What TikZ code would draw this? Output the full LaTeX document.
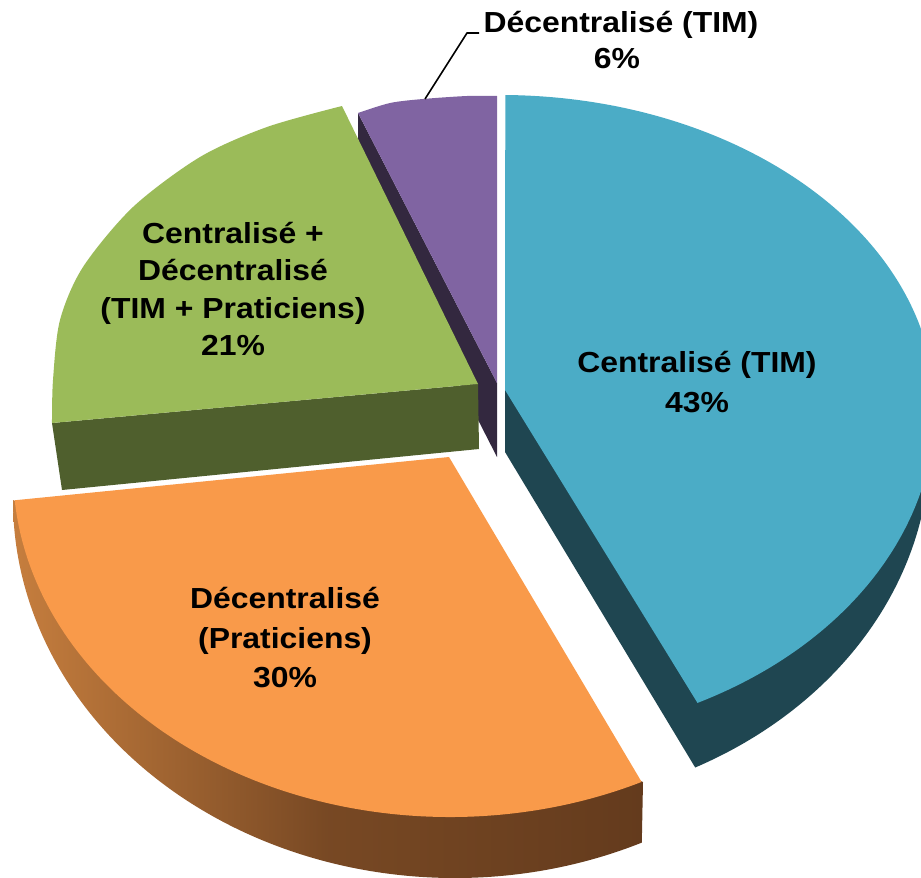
\documentclass[tikz,border=0pt]{standalone}
\usepackage{fontspec}
\newfontfamily\lblfont{Liberation Sans}[FakeStretch=1.1]
\definecolor{bluetop}{HTML}{4BACC6}
\definecolor{blueside}{HTML}{1F4651}
\definecolor{orangetop}{HTML}{F99A4A}
\definecolor{orangelight}{HTML}{C67E3E}
\definecolor{orangedark}{HTML}{643B1D}
\definecolor{greentop}{HTML}{9BBB59}
\definecolor{greenside}{HTML}{4F5F2D}
\definecolor{purpletop}{HTML}{8064A2}
\definecolor{purpleside}{HTML}{33283F}
\tikzset{
  lbl/.style={font=\lblfont\bfseries\fontsize{29}{38}\selectfont, inner sep=0pt, anchor=base, text=black},
  leader/.style={draw=black, line width=1.6pt, line join=round}
}
\begin{document}
\begin{tikzpicture}[x=1pt,y=-1pt]
\useasboundingbox (0,0) rectangle (921,878);
\begin{scope}
\clip (0,0) rectangle (921,878);
% ---- purple (back) ----
\fill[purpleside] (358,113) -- (497,383) -- (497,457) -- (358,185) -- cycle;
\fill[purpletop] (358,113) -- plot[smooth] coordinates {(358,113) (390,103) (423,99) (467,96) (497,96)} -- (497,383) -- cycle;
% ---- green ----
\fill[greenside] (52,423) -- (478,384) -- (479,449) -- (62,490) -- cycle;
\fill[greentop] (478,384) -- (52,423) -- plot[smooth] coordinates {(52,423) (53,380) (60,320) (83,267) (133,207) (200,157) (267,127) (342,106)} -- cycle;
% ---- blue ----
\fill[blueside] (505,390) -- (505,452) -- (695.2,767.5)
   arc[start angle=63, end angle=0, x radius=430, y radius=362] -- (940,390) -- cycle;
\fill[bluetop] (505,390) -- (505.3,95)
   arc[start angle=-89.3, end angle=0, x radius=435, y radius=313]
   arc[start angle=0, end angle=63, x radius=435, y radius=331] -- cycle;
% ---- orange ----
\shade[left color=orangelight, right color=orangedark, middle color=orangedark!80!orangelight]
  (643,782) -- (641.8,842.6)
  arc[start angle=65, end angle=180, x radius=442, y radius=378] -- cycle;
\fill[orangetop] (449,457) -- (641.6,781.9)
  arc[start angle=64, end angle=175, x radius=437, y radius=347] -- cycle;
\end{scope}
% ---- leader ----
\coordinate (ldA) at (425,99);
\coordinate (ldB) at (467,33);
\coordinate (ldC) at (479,33);
\draw[leader] (ldA) -- (ldB) -- (ldC);
% ---- labels ----
\node[lbl] (pl1) at (621,32) {Décentralisé (TIM)};
\node[lbl] (pl2) at (617,68) {6\%};
\node[lbl] (bl1) at (697,372) {Centralisé (TIM)};
\node[lbl] (bl2) at (697,412) {43\%};
\node[lbl] (gl1) at (233,243) {Centralisé +};
\node[lbl] (gl2) at (233,280) {Décentralisé};
\node[lbl] (gl3) at (233,318) {(TIM + Praticiens)};
\node[lbl] (gl4) at (233,355) {21\%};
\node[lbl] (ol1) at (285,608) {Décentralisé};
\node[lbl] (ol2) at (285,648) {(Praticiens)};
\node[lbl] (ol3) at (285,687) {30\%};
\end{tikzpicture}
\end{document}
